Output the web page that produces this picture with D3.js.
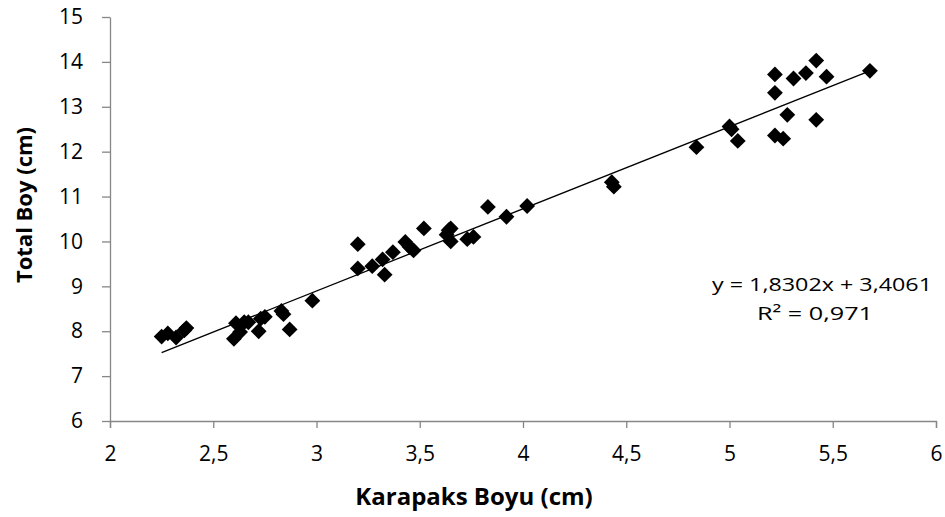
<!DOCTYPE html>
<html>
<head>
<meta charset="utf-8">
<script src="https://cdn.jsdelivr.net/npm/d3@7"></script>
<style>
  body { margin: 0; background: #fff; }
  svg { font-family: "Open Sans", sans-serif; }
  .axis path, .axis line { stroke: #868686; stroke-width: 1.3; }
  .axis text { fill: #000; font-size: 21px; font-family: "Open Sans", sans-serif; }
</style>
</head>
<body>
<svg id="chart" width="945" height="517"></svg>
<script>
// Karapaks boyu (x) ve total boy (y)
var karapaks = [2.25, 2.28, 2.32, 2.36, 2.37,
  2.60, 2.61, 2.63, 2.65, 2.67, 2.72, 2.73, 2.75, 2.83, 2.84, 2.87, 2.98,
  3.20, 3.20, 3.27, 3.32, 3.33, 3.37, 3.43, 3.45, 3.47, 3.52, 3.63, 3.64, 3.65, 3.65, 3.73, 3.76, 3.83, 3.92, 4.02,
  4.43, 4.44, 4.84, 5.00, 5.01, 5.04,
  5.22, 5.22, 5.22, 5.26, 5.28, 5.31, 5.37, 5.42, 5.42, 5.47, 5.68];
var totalBoy = [7.88, 7.95, 7.86, 8.02, 8.07,
  7.83, 8.18, 7.98, 8.20, 8.20, 8.00, 8.28, 8.32, 8.45, 8.38, 8.04, 8.68,
  9.94, 9.40, 9.45, 9.60, 9.26, 9.76, 9.99, 9.88, 9.80, 10.29, 10.15, 10.25, 10.00, 10.29, 10.05, 10.10, 10.77, 10.55, 10.79,
  11.32, 11.22, 12.10, 12.56, 12.50, 12.24,
  13.72, 13.31, 12.36, 12.29, 12.82, 13.63, 13.75, 14.03, 12.71, 13.67, 13.80];
var xTicks = [2, 2.5, 3, 3.5, 4, 4.5, 5, 5.5, 6];
var yTicks = [6, 7, 8, 9, 10, 11, 12, 13, 14, 15];
var slope = 1.8302, intercept = 3.4061, r2 = "0,971";

var data = karapaks.map(function(d, i) { return {x: d, y: totalBoy[i]}; });

var svg = d3.select("#chart");
var margin = {top: 17, right: 9, bottom: 96, left: 110},
    width = 945 - margin.left - margin.right,
    height = 517 - margin.top - margin.bottom;

var x = d3.scaleLinear().domain([2, 6]).range([0, width]),
    y = d3.scaleLinear().domain([6, 15]).range([height, 0]);

var fmt = function(d) { return String(d).replace(".", ","); };

var g = svg.append("g")
    .attr("transform", "translate(" + margin.left + "," + margin.top + ")");

g.append("g")
    .attr("class", "axis axis--x")
    .attr("transform", "translate(0," + height + ")")
    .call(d3.axisBottom(x).tickValues(xTicks).tickFormat(fmt).tickSize(7).tickSizeOuter(7).tickPadding(18));

g.append("g")
    .attr("class", "axis axis--y")
    .call(d3.axisLeft(y).tickValues(yTicks).tickSize(8).tickSizeOuter(0).tickPadding(19));

// trend line
var xMin = d3.min(karapaks), xMax = d3.max(karapaks);
g.append("line")
    .attr("x1", x(xMin)).attr("y1", y(slope * xMin + intercept))
    .attr("x2", x(xMax)).attr("y2", y(slope * xMax + intercept))
    .attr("stroke", "#000")
    .attr("stroke-width", 1.3);

// points
g.selectAll(".pt")
  .data(data)
  .enter().append("path")
    .attr("class", "pt")
    .attr("d", d3.symbol().type(d3.symbolSquare).size(125))
    .attr("transform", function(d) { return "translate(" + x(d.x) + "," + y(d.y) + ") rotate(45)"; })
    .attr("fill", "#000");

// equation
svg.append("text")
    .attr("x", 712)
    .attr("y", 291)
    .attr("textLength", 220)
    .attr("lengthAdjust", "spacingAndGlyphs")
    .style("font-size", "19px")
    .text("y = " + fmt(slope) + "x + " + fmt(intercept));
svg.append("text")
    .attr("x", 757)
    .attr("y", 320)
    .attr("textLength", 116)
    .attr("lengthAdjust", "spacingAndGlyphs")
    .style("font-size", "19px")
    .text("R² = " + r2);

// axis titles
svg.append("text")
    .attr("x", 474)
    .attr("y", 505)
    .attr("text-anchor", "middle")
    .style("font-size", "24px")
    .style("font-weight", "bold")
    .text("Karapaks Boyu (cm)");

svg.append("text")
    .attr("transform", "translate(32,205) rotate(-90)")
    .attr("text-anchor", "middle")
    .style("font-size", "22px")
    .style("font-weight", "bold")
    .text("Total Boy (cm)");
</script>
</body>
</html>
